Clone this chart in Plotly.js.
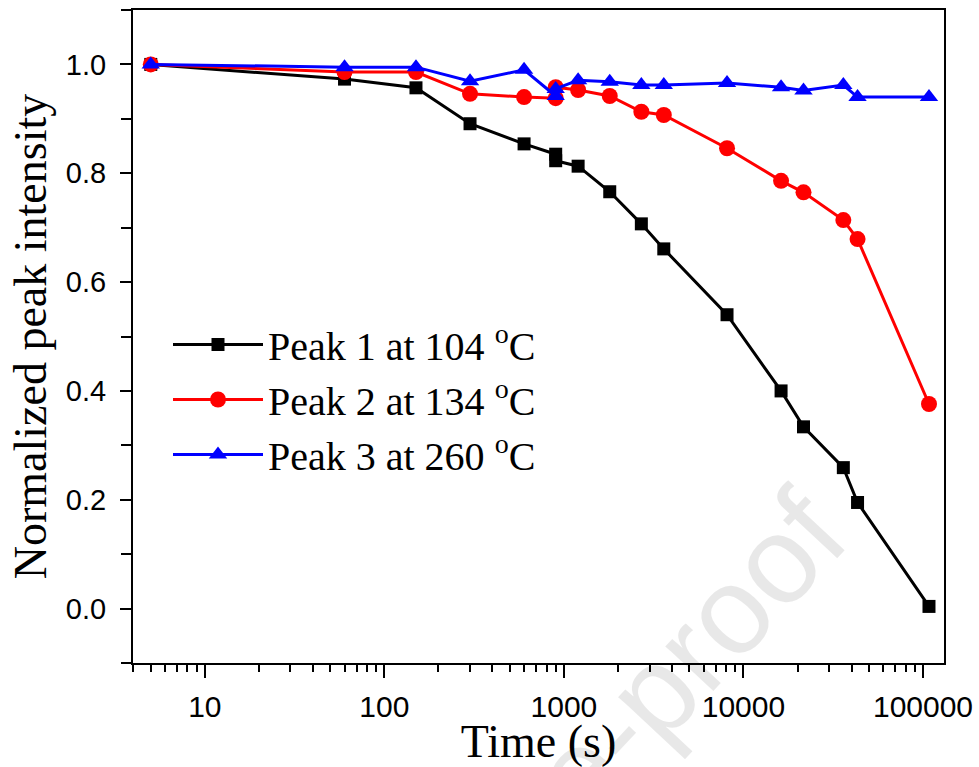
<!DOCTYPE html>
<html>
<head>
<meta charset="utf-8">
<script src="https://cdn.plot.ly/plotly-3.0.1.min.js"></script>
<style>html,body{margin:0;padding:0;background:#fff;}#chart{width:979px;height:767px;}</style>
</head>
<body>
<div id="chart"></div>
<script>
// Data
const time_s = [5, 60, 150, 300, 600, 900, 900, 1200, 1800, 2700, 3600, 8100, 16200, 21600, 36000, 43200, 108000];
const peak1 = [1.000, 0.973, 0.957, 0.891, 0.854, 0.835, 0.823, 0.813, 0.766, 0.707, 0.661, 0.540, 0.400, 0.334, 0.259, 0.195, 0.004];
const peak2 = [1.000, 0.986, 0.986, 0.946, 0.940, 0.938, 0.958, 0.953, 0.942, 0.913, 0.907, 0.846, 0.786, 0.765, 0.714, 0.679, 0.376];
const peak3 = [1.000, 0.995, 0.995, 0.969, 0.990, 0.942, 0.955, 0.971, 0.968, 0.962, 0.962, 0.966, 0.958, 0.952, 0.962, 0.940, 0.940];
const seriesNames = ['Peak 1 at 104 <sup>o</sup>C', 'Peak 2 at 134 <sup>o</sup>C', 'Peak 3 at 260 <sup>o</sup>C'];
const xTickVals = [10, 100, 1000, 10000, 100000];
const xTickText = ['10', '100', '1000', '10000', '100000'];
const xMinorVals = [4,5,6,7,8,9,20,30,40,50,60,70,80,90,200,300,400,500,600,700,800,900,
  2000,3000,4000,5000,6000,7000,8000,9000,20000,30000,40000,50000,60000,70000,80000,90000];
const yTickVals = [0, 0.2, 0.4, 0.6, 0.8, 1.0];
const yTickText = ['0.0', '0.2', '0.4', '0.6', '0.8', '1.0'];
const yMinorVals = [-0.1, 0.1, 0.3, 0.5, 0.7, 0.9, 1.1];

const serif = 'Liberation Serif, Times New Roman, serif';
const sans = 'Liberation Sans, Arial, sans-serif';

const traces = [
  {x: time_s, y: peak1, name: seriesNames[0], mode: 'lines+markers',
   line: {color: '#000000', width: 3}, marker: {symbol: 'square', size: 13, color: '#000000'}},
  {x: time_s, y: peak2, name: seriesNames[1], mode: 'lines+markers',
   line: {color: '#ff0000', width: 3}, marker: {symbol: 'circle', size: 16, color: '#ff0000'}},
  {x: time_s, y: peak3, name: seriesNames[2], mode: 'lines+markers',
   line: {color: '#0000ff', width: 3}, marker: {symbol: 'triangle-up', size: 16, color: '#0000ff'}}
];

const L = 133, R = 35, T = 10, B = 104;
const W = 979, H = 767;
const pw = W - L - R, ph = H - T - B;

const layout = {
  width: W, height: H,
  margin: {l: L, r: R, t: T, b: B},
  paper_bgcolor: '#ffffff', plot_bgcolor: '#ffffff',
  showlegend: true,
  legend: {
    x: (168 - L) / pw, y: (T + ph - 312) / ph, xanchor: 'left', yanchor: 'top',
    bgcolor: 'rgba(0,0,0,0)', borderwidth: 0,
    font: {family: serif, size: 40, color: '#000'},
    itemwidth: 90, tracegroupgap: 0
  },
  xaxis: {
    type: 'log', range: [0.6, 5.117],
    showline: true, linecolor: '#000', linewidth: 2, mirror: true,
    showgrid: false, zeroline: false,
    ticks: 'outside', ticklen: 13, tickwidth: 2, tickcolor: '#000',
    tickmode: 'array', tickvals: xTickVals, ticktext: xTickText,
    tickfont: {family: sans, size: 30, color: '#000'},
    ticklabelstandoff: 3,
    minor: {tickmode: 'array', tickvals: xMinorVals, ticks: 'outside', ticklen: 7, tickwidth: 2, tickcolor: '#000', showgrid: false},
    title: {text: 'Time (s)', font: {family: serif, size: 46, color: '#000'}, standoff: 0}
  },
  yaxis: {
    range: [-0.1, 1.1],
    showline: true, linecolor: '#000', linewidth: 2, mirror: true,
    showgrid: false, zeroline: false,
    ticks: 'outside', ticklen: 11, tickwidth: 2, tickcolor: '#000',
    tickmode: 'array', tickvals: yTickVals, ticktext: yTickText,
    tickfont: {family: sans, size: 29, color: '#000'},
    ticklabelstandoff: 8,
    minor: {tickmode: 'array', tickvals: yMinorVals, ticks: 'outside', ticklen: 10, tickwidth: 2, tickcolor: '#000', showgrid: false},
    title: {text: 'Normalized peak intensity', font: {family: serif, size: 46, color: '#000'}, standoff: 5}
  },
  annotations: [{
    text: 'Journal Pre-proof', showarrow: false,
    xref: 'paper', yref: 'paper',
    x: (495 - L) / pw, y: (T + ph - 862) / ph,
    xanchor: 'center', yanchor: 'middle',
    textangle: -47,
    font: {family: sans, size: 124, color: 'rgba(0,0,0,0.09)'}
  }]
};

Plotly.newPlot('chart', traces, layout, {staticPlot: true, displayModeBar: false});
</script>
</body>
</html>
